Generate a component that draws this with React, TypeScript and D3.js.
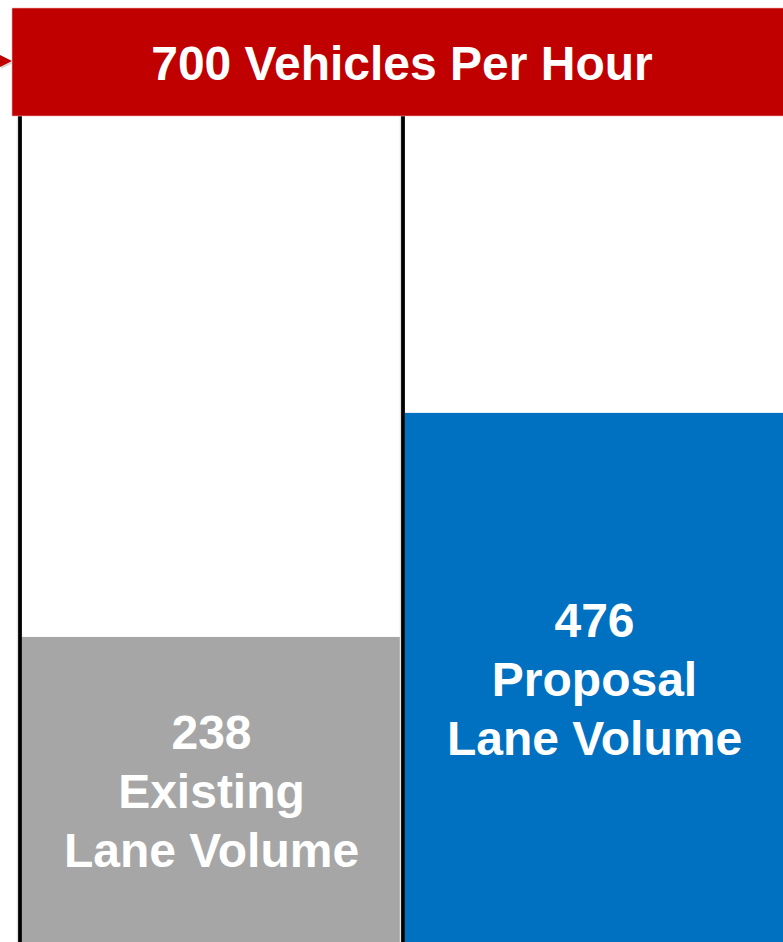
import React, { useEffect, useRef } from 'react'
import * as d3 from 'd3'

// chart data
const categories = ['Existing', 'Proposal']
const laneVolumes = [238, 476]
const labelLines = [
    ['238', 'Existing', 'Lane Volume'],
    ['476', 'Proposal', 'Lane Volume'],
]
const barColours = ['#A6A6A6', '#0070C0']
const capacity = 700
const capacityLabel = '700 Vehicles Per Hour'

const WIDTH = 783
const HEIGHT = 942
const FONT = '"Liberation Sans", Arial, Helvetica, sans-serif'

export default function App() {
    const container = useRef<SVGSVGElement>(null)

    useEffect(() => {
        const svg = d3.select(container.current)
        svg.selectAll('*').remove()

        const x = d3.scaleBand<string>()
            .domain(categories)
            .range([20, 786])
            .padding(0)

        // zero sits below the cropped bottom edge of the original slide
        const y = d3.scaleLinear()
            .domain([0, capacity])
            .range([861, 202])

        const bannerTop = 8
        const bannerBottom = 116

        // bars
        svg.selectAll('.bar')
            .data(categories)
            .enter().append('rect')
            .attr('class', 'bar')
            .attr('x', (d) => (x(d) || 0) + 2)
            .attr('y', (_, i) => y(laneVolumes[i]))
            .attr('width', x.bandwidth() - 4)
            .attr('height', (_, i) => HEIGHT - y(laneVolumes[i]))
            .attr('fill', (_, i) => barColours[i])

        // divider lines (with faint shadow)
        svg.selectAll('.divShadow')
            .data(categories)
            .enter().append('line')
            .attr('class', 'divShadow')
            .attr('x1', (d) => (x(d) || 0) - 2.5)
            .attr('x2', (d) => (x(d) || 0) - 2.5)
            .attr('y1', bannerBottom)
            .attr('y2', HEIGHT)
            .attr('stroke', '#e4e4e4')
            .attr('stroke-width', 1.5)

        svg.selectAll('.divider')
            .data(categories)
            .enter().append('line')
            .attr('class', 'divider')
            .attr('x1', (d) => x(d) || 0)
            .attr('x2', (d) => x(d) || 0)
            .attr('y1', bannerBottom)
            .attr('y2', HEIGHT)
            .attr('stroke', '#000')
            .attr('stroke-width', 3.8)

        // labels, centred in the visible part of each bar
        const lineGap = 59
        categories.forEach((d, i) => {
            const top = y(laneVolumes[i])
            const mid = (top + HEIGHT) / 2
            const lines = labelLines[i]
            const firstBaseline = mid - ((lines.length - 1) * lineGap) / 2 + 19
            const cx = (x(d) || 0) + x.bandwidth() / 2
            svg.append('g')
                .selectAll('text')
                .data(lines)
                .enter().append('text')
                .attr('x', cx)
                .attr('y', (_, j) => firstBaseline + j * lineGap)
                .attr('text-anchor', 'middle')
                .attr('fill', '#fff')
                .attr('font-family', FONT)
                .attr('font-weight', 'bold')
                .attr('font-size', 48)
                .text((t) => t)
        })

        // arrow pointer into the banner
        svg.append('path')
            .attr('d', `M1,${57} L13,${63} L1,${69} Z`)
            .attr('fill', '#d8d8d8')
        svg.append('path')
            .attr('d', `M0,${55} L12,${61} L0,${67} Z`)
            .attr('fill', '#C00000')

        // capacity banner
        svg.append('rect')
            .attr('x', 12)
            .attr('y', bannerTop)
            .attr('width', WIDTH)
            .attr('height', bannerBottom - bannerTop)
            .attr('fill', '#C00000')
            .attr('stroke', '#f0b0b0')
            .attr('stroke-width', 0.6)

        svg.append('text')
            .attr('x', 402)
            .attr('y', 80)
            .attr('text-anchor', 'middle')
            .attr('fill', '#fff')
            .attr('font-family', FONT)
            .attr('font-weight', 'bold')
            .attr('font-size', 48)
            .text(capacityLabel)
    }, [])

    return (
        <svg
            ref={container}
            width={WIDTH}
            height={HEIGHT}
            style={{ position: 'absolute', left: 0, top: 0, background: '#fff' }}
        />
    )
}
